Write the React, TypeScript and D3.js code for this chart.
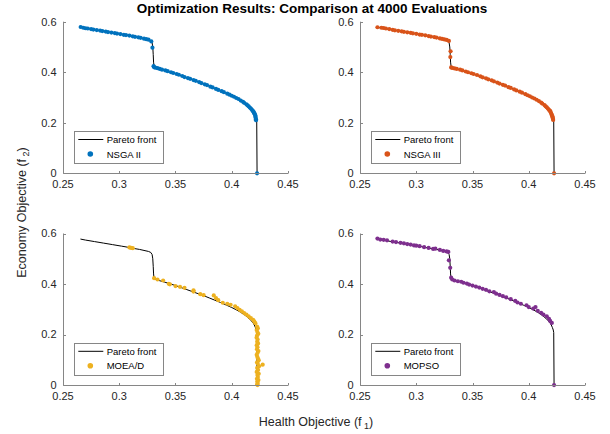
import React from "react";
import * as d3 from "d3";

const title = "Optimization Results: Comparison at 4000 Evaluations";
const xTicks = [0.25, 0.3, 0.35, 0.4, 0.45];
const yTicks = [0, 0.2, 0.4, 0.6];
const seriesNames = ["NSGA II", "NSGA III", "MOEA/D", "MOPSO"];
const seriesColors = ["#0072BD", "#D95319", "#EDB120", "#7E2F8E"];

// Pareto front [f1, f2]
const paretoFront: [number, number][] = [
  [0.2655, 0.578], [0.270, 0.574], [0.274, 0.571], [0.278, 0.568], [0.282, 0.565],
  [0.286, 0.562], [0.290, 0.559], [0.294, 0.556], [0.298, 0.553], [0.302, 0.550],
  [0.306, 0.547], [0.310, 0.543], [0.314, 0.540], [0.318, 0.537], [0.322, 0.533],
  [0.326, 0.529], [0.328, 0.525], [0.3292, 0.517], [0.3298, 0.500], [0.3302, 0.470],
  [0.3305, 0.440], [0.331, 0.422], [0.333, 0.418], [0.336, 0.413], [0.340, 0.408],
  [0.345, 0.401], [0.350, 0.394], [0.355, 0.386], [0.360, 0.378], [0.365, 0.370],
  [0.370, 0.362], [0.375, 0.354], [0.380, 0.345], [0.385, 0.336], [0.390, 0.327],
  [0.395, 0.317], [0.400, 0.307], [0.404, 0.298], [0.408, 0.288], [0.412, 0.276],
  [0.415, 0.265], [0.417, 0.256], [0.419, 0.246], [0.420, 0.238], [0.421, 0.228],
  [0.4218, 0.218], [0.4222, 0.208], [0.4225, 0.0],
];

const nsga2: [number, number][] = [
  [0.2657, 0.579], [0.268, 0.576], [0.270, 0.574], [0.272, 0.573], [0.275, 0.571],
  [0.277, 0.569], [0.280, 0.567], [0.283, 0.565], [0.285, 0.563], [0.288, 0.561],
  [0.290, 0.559], [0.293, 0.557], [0.296, 0.555], [0.298, 0.553], [0.301, 0.551],
  [0.304, 0.548], [0.306, 0.547], [0.309, 0.545], [0.312, 0.542], [0.314, 0.540],
  [0.317, 0.538], [0.319, 0.536], [0.322, 0.533], [0.324, 0.531], [0.326, 0.529],
  [0.3285, 0.522], [0.3295, 0.497],
  [0.3305, 0.424], [0.331, 0.420], [0.332, 0.418], [0.334, 0.416], [0.336, 0.413],
  [0.338, 0.410], [0.341, 0.407], [0.343, 0.404], [0.346, 0.400], [0.348, 0.397],
  [0.351, 0.393], [0.353, 0.390], [0.356, 0.385], [0.358, 0.381], [0.361, 0.377],
  [0.363, 0.374], [0.366, 0.369], [0.368, 0.366], [0.371, 0.361], [0.373, 0.357],
  [0.376, 0.352], [0.378, 0.349], [0.381, 0.343], [0.383, 0.340], [0.386, 0.334],
  [0.388, 0.330], [0.391, 0.325], [0.393, 0.321], [0.396, 0.315], [0.398, 0.311],
  [0.400, 0.307], [0.402, 0.303], [0.404, 0.298], [0.406, 0.294], [0.408, 0.288],
  [0.410, 0.283], [0.411, 0.279], [0.413, 0.273], [0.414, 0.269], [0.415, 0.265],
  [0.416, 0.260], [0.417, 0.256], [0.418, 0.251], [0.419, 0.246], [0.4195, 0.242],
  [0.420, 0.238], [0.4205, 0.234], [0.421, 0.229], [0.421, 0.224], [0.4213, 0.219],
  [0.4215, 0.214], [0.4216, 0.210], [0.4225, 0.0],
];

const nsga3: [number, number][] = [
  [0.2655, 0.578], [0.269, 0.576], [0.271, 0.575], [0.273, 0.573], [0.276, 0.571],
  [0.279, 0.568], [0.281, 0.566], [0.284, 0.564], [0.287, 0.562], [0.289, 0.560],
  [0.292, 0.558], [0.295, 0.556], [0.297, 0.554], [0.300, 0.552], [0.303, 0.549],
  [0.305, 0.548], [0.308, 0.546], [0.311, 0.543], [0.313, 0.541], [0.316, 0.539],
  [0.318, 0.537], [0.321, 0.534], [0.323, 0.532], [0.325, 0.530], [0.327, 0.528],
  [0.329, 0.524], [0.3305, 0.483], [0.3303, 0.460],
  [0.331, 0.419], [0.332, 0.417], [0.334, 0.415], [0.336, 0.413], [0.339, 0.410],
  [0.341, 0.407], [0.344, 0.403], [0.346, 0.400], [0.349, 0.396], [0.351, 0.393],
  [0.354, 0.389], [0.357, 0.384], [0.359, 0.380], [0.362, 0.376], [0.364, 0.372],
  [0.367, 0.368], [0.369, 0.364], [0.372, 0.359], [0.374, 0.355], [0.377, 0.350],
  [0.379, 0.347], [0.382, 0.341], [0.384, 0.338], [0.387, 0.332], [0.389, 0.328],
  [0.392, 0.323], [0.394, 0.319], [0.397, 0.313], [0.399, 0.309], [0.401, 0.305],
  [0.403, 0.300], [0.405, 0.296], [0.407, 0.291], [0.409, 0.286], [0.411, 0.280],
  [0.412, 0.276], [0.414, 0.270], [0.415, 0.265], [0.416, 0.261], [0.417, 0.256],
  [0.418, 0.251], [0.419, 0.247], [0.4195, 0.242], [0.420, 0.236], [0.4205, 0.231],
  [0.421, 0.226], [0.4212, 0.221], [0.4215, 0.216], [0.4217, 0.211], [0.4225, 0.0],
];

const moead: [number, number][] = [
  [0.309, 0.545], [0.3105, 0.543], [0.312, 0.542],
  [0.331, 0.423], [0.334, 0.418], [0.339, 0.414], [0.344, 0.401], [0.345, 0.399],
  [0.350, 0.392], [0.354, 0.389], [0.358, 0.385], [0.366, 0.375], [0.366, 0.370],
  [0.372, 0.360], [0.375, 0.356], [0.384, 0.355], [0.386, 0.344], [0.388, 0.336],
  [0.392, 0.326], [0.396, 0.322], [0.399, 0.318], [0.403, 0.312], [0.405, 0.305],
  [0.407, 0.298], [0.409, 0.292], [0.411, 0.285], [0.413, 0.279], [0.415, 0.272],
  [0.417, 0.265], [0.419, 0.258], [0.420, 0.252], [0.421, 0.245],
  [0.4225, 0.232], [0.4232, 0.225], [0.4222, 0.218], [0.4228, 0.210], [0.4236, 0.203],
  [0.4225, 0.196], [0.4221, 0.188], [0.4230, 0.180], [0.4226, 0.172], [0.4234, 0.165],
  [0.4222, 0.158], [0.4229, 0.150], [0.4224, 0.142], [0.4237, 0.135], [0.4230, 0.128],
  [0.4222, 0.120], [0.4227, 0.112], [0.4233, 0.105], [0.4240, 0.098], [0.4225, 0.090],
  [0.4230, 0.085], [0.4275, 0.081], [0.4243, 0.075], [0.4226, 0.068], [0.4234, 0.060],
  [0.4222, 0.052], [0.4240, 0.045], [0.4228, 0.040], [0.4232, 0.032], [0.4224, 0.025],
  [0.4237, 0.020], [0.4227, 0.014], [0.4231, 0.008], [0.4226, 0.003], [0.4229, 0.0],
];

const mopso: [number, number][] = [
  [0.2655, 0.580], [0.268, 0.576], [0.271, 0.575], [0.274, 0.573], [0.279, 0.568],
  [0.282, 0.566], [0.286, 0.563], [0.289, 0.561], [0.292, 0.558], [0.295, 0.556],
  [0.298, 0.553], [0.300, 0.552], [0.303, 0.550], [0.307, 0.546], [0.311, 0.543],
  [0.315, 0.539], [0.317, 0.540], [0.321, 0.535], [0.324, 0.531], [0.327, 0.529],
  [0.3285, 0.527], [0.329, 0.494], [0.3302, 0.464],
  [0.331, 0.425], [0.332, 0.418], [0.334, 0.414], [0.337, 0.411], [0.340, 0.409],
  [0.342, 0.405], [0.345, 0.402], [0.347, 0.398], [0.350, 0.394], [0.353, 0.390],
  [0.356, 0.386], [0.359, 0.381], [0.362, 0.377], [0.365, 0.371], [0.369, 0.368],
  [0.371, 0.362], [0.374, 0.357], [0.377, 0.352], [0.380, 0.347], [0.384, 0.340],
  [0.388, 0.333], [0.390, 0.327], [0.393, 0.322], [0.398, 0.316], [0.400, 0.309],
  [0.404, 0.303], [0.406, 0.309], [0.408, 0.294], [0.411, 0.286], [0.413, 0.279],
  [0.416, 0.272], [0.418, 0.262], [0.419, 0.254], [0.4205, 0.246], [0.4225, 0.0],
];

const seriesData = [nsga2, nsga3, moead, mopso];

const FONT = "'Liberation Sans', Arial, Helvetica, sans-serif";
const TEXT = "#262626";
const AXIS = "#868686";

function Panel({ left, top, width, height, idx }: { left: number; top: number; width: number; height: number; idx: number }) {
  const x = d3.scaleLinear().domain([0.25, 0.45]).range([left, left + width]);
  const y = d3.scaleLinear().domain([0, 0.6]).range([top + height, top]);
  const line = d3.line<[number, number]>().x((d) => x(d[0])).y((d) => y(d[1]));
  const color = seriesColors[idx];
  const pts = seriesData[idx];
  const bx = left + 11;
  const by = top + height - 10.6 - 32;
  const x0 = Math.round(left) + 0.5;
  const y0 = Math.round(top + height) + 0.5;
  return (
    <g>
      <path d={line(paretoFront) || ""} fill="none" stroke="#000" strokeWidth={1} />
      {pts.map((p, i) => (
        <circle key={i} cx={x(p[0])} cy={y(p[1])} r={2.1} fill={color} />
      ))}
      <line x1={x0} x2={x0} y1={y(0.6)} y2={y0} stroke={AXIS} strokeWidth={1} />
      <line x1={x0} x2={x(0.45)} y1={y0} y2={y0} stroke={AXIS} strokeWidth={1} />
      {xTicks.map((t) => (
        <g key={"x" + t}>
          <line x1={Math.round(x(t)) + 0.5} x2={Math.round(x(t)) + 0.5} y1={y0} y2={y0 - 2.5} stroke={AXIS} />
          <text x={x(t)} y={y0 + 14.8} textAnchor="middle" fontSize={11} fill={TEXT} fontFamily={FONT}>
            {String(t)}
          </text>
        </g>
      ))}
      {yTicks.map((t) => (
        <g key={"y" + t}>
          <line x1={x0} x2={x0 + 2.5} y1={Math.round(y(t)) + 0.5} y2={Math.round(y(t)) + 0.5} stroke={AXIS} />
          <text x={left - 6.5} y={y(t) + 3.8} textAnchor="end" fontSize={11} fill={TEXT} fontFamily={FONT}>
            {String(t)}
          </text>
        </g>
      ))}
      <rect x={Math.round(bx) + 0.5} y={Math.round(by) + 0.5} width={89} height={32} fill="#fff" stroke={AXIS} strokeWidth={1} />
      <line x1={bx + 4.3} x2={bx + 29.3} y1={by + 8.8} y2={by + 8.8} stroke="#000" strokeWidth={1} />
      <text x={bx + 32.7} y={by + 12.3} fontSize={9.5} fill="#000" fontFamily={FONT}>Pareto front</text>
      <circle cx={bx + 16.3} cy={by + 23.3} r={2.8} fill={color} />
      <text x={bx + 32.7} y={by + 26.8} fontSize={9.5} fill="#000" fontFamily={FONT}>{seriesNames[idx]}</text>
    </g>
  );
}

export default function App() {
  const cols = [63, 360];
  const rows = [21.7, 233.5];
  const w = 225;
  const h = 151.6;
  return (
    <svg width={610} height={434} style={{ position: "absolute", left: 0, top: 0, background: "#fff" }}>
      <rect width={610} height={434} fill="#fff" />
      <text x={312} y={13.3} textAnchor="middle" fontSize={13.5} fontWeight="bold" fill="#000" fontFamily={FONT}>
        {title}
      </text>
      {[0, 1, 2, 3].map((i) => (
        <Panel key={i} idx={i} left={cols[i % 2]} top={rows[Math.floor(i / 2)]} width={w} height={h} />
      ))}
      <text transform="translate(25.5,212.5) rotate(-90)" textAnchor="middle" fontSize={12.5} fill={TEXT} fontFamily={FONT}>
        Economy Objective (f<tspan fontSize={9} dx={2.5} dy={3.5}>2</tspan><tspan dy={-3.5}>)</tspan>
      </text>
      <text x={316} y={425.7} textAnchor="middle" fontSize={12.5} fill={TEXT} fontFamily={FONT}>
        Health Objective (f<tspan fontSize={9} dx={2.5} dy={3.5}>1</tspan><tspan dy={-3.5}>)</tspan>
      </text>
    </svg>
  );
}
